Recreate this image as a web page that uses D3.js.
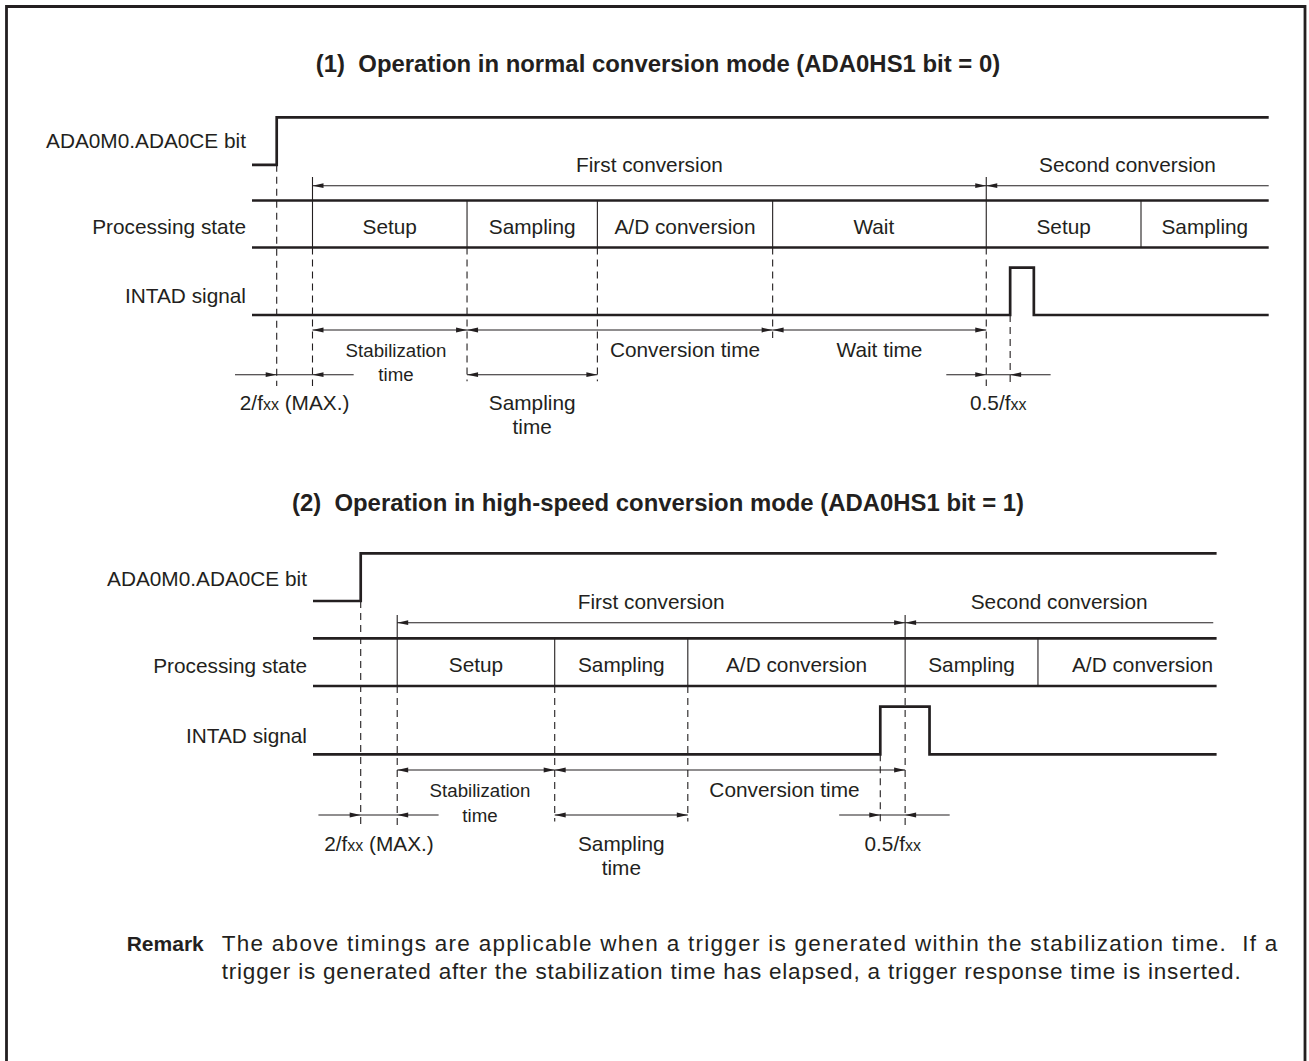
<!DOCTYPE html>
<html><head><meta charset="utf-8">
<script src="https://cdn.jsdelivr.net/npm/d3@7"></script>
<style>
html,body{margin:0;padding:0;background:#fff;}
svg{display:block;}
text{font-family:"Liberation Sans",Arial,Helvetica,sans-serif;fill:#231f20;white-space:pre;}
</style></head><body><div id="chart"></div>
<script>
// ================= DATA =================
const titles = [
  "(1)  Operation in normal conversion mode (ADA0HS1 bit = 0)",
  "(2)  Operation in high-speed conversion mode (ADA0HS1 bit = 1)"
];
const signalLabels = ["ADA0M0.ADA0CE bit", "Processing state", "INTAD signal"];
const remarkHead = "Remark";
const remarkLines = [
  "The above timings are applicable when a trigger is generated within the stabilization time.  If a",
  "trigger is generated after the stabilization time has elapsed, a trigger response time is inserted."
];

// Times are in diagram units: 0 = left end of the traces, 1000 = right end.
// ---- Panel 1: normal conversion mode ----
const normalCeRise = 24.3;
const normalStateBounds = [59.5, 211.5, 339.7, 512.1, 722.2, 874.4, 1000];
const normalStateLabels = ["Setup", "Sampling", "A/D conversion", "Wait", "Setup", "Sampling"];
const normalStateLabelAt = [135.5, 275.6, 425.9, 611.6, 798.3, 937.2];
const normalIntadPulse = [745.7, 769.0];
const normalConvLabels = ["First conversion", "Second conversion"];
const normalConvBounds = [59.5, 722.2, 1000];
const normalSpanLabels = [["Stabilization", "time"], ["Conversion time"], ["Wait time"], ["Sampling", "time"]];
const normalSpanFrom = [59.5, 211.5, 512.1, 211.5];
const normalSpanTo = [211.5, 512.1, 722.2, 339.7];
const normalSpanRow = [0, 0, 0, 1];
const normalSpanLabelAt = [141.6, 425.9, 617.2, 275.6];
const normalClockLabels = [["2/f", "xx", " (MAX.)"], ["0.5/f", "xx", ""]];
const normalClockFrom = [24.3, 722.2];
const normalClockTo = [59.5, 745.7];
const normalClockLineFrom = [-16.7, 682.9];
const normalClockLineTo = [100.0, 785.5];

// ---- Panel 2: high-speed conversion mode ----
const fastCeRise = 52.8;
const fastStateBounds = [93.2, 267.5, 414.8, 655.3, 802.3, 1000];
const fastStateLabels = ["Setup", "Sampling", "A/D conversion", "Sampling", "A/D conversion"];
const fastStateLabelAt = [180.4, 341.2, 535.1, 728.8, 918.0];
const fastIntadPulse = [627.8, 682.3];
const fastConvLabels = ["First conversion", "Second conversion"];
const fastConvBounds = [93.2, 655.3, 996.3];
const fastSpanLabels = [["Stabilization", "time"], ["Conversion time"], ["Sampling", "time"]];
const fastSpanFrom = [93.2, 267.5, 267.5];
const fastSpanTo = [267.5, 655.3, 414.8];
const fastSpanRow = [0, 0, 1];
const fastSpanLabelAt = [184.8, 521.8, 341.2];
const fastClockLabels = [["2/f", "xx", " (MAX.)"], ["0.5/f", "xx", ""]];
const fastClockFrom = [52.8, 627.8];
const fastClockTo = [93.2, 655.3];
const fastClockLineFrom = [6.0, 582.3];
const fastClockLineTo = [139.0, 704.6];

// ================= LAYOUT / STYLE =================
const W = 1309, H = 1061;
const ink = "#231f20";
const FS = 20.8, FS_SMALL = 18.7, FS_SUB = 16, FS_TITLE = 23.9;
const thick = 2.7, thin = 1.1;
const layouts = [
  {x0: 252, x1: 1268.7, titleY: 72, ceHigh: 117.3, ceLow: 164.8, ceText: 148.3,
   convText: 172, convArrow: 185.7, tickTop: 177, boxTop: 200.5, boxBot: 247.5, stateText: 233.8,
   intadBase: 315, intadTop: 267.7, intadText: 303.3, rows: [330, 374.7],
   rowText: [[357.3, 381], [410.3, 434.3]], longBot: 386},
  {x0: 313, x1: 1216.6, titleY: 510.7, ceHigh: 553.3, ceLow: 601, ceText: 586,
   convText: 608.5, convArrow: 622.7, tickTop: 615, boxTop: 638.3, boxBot: 686, stateText: 672.7,
   intadBase: 754.3, intadTop: 706.7, intadText: 742.7, rows: [770, 815],
   rowText: [[797.3, 821.7], [851, 875]], longBot: 826}
];
const rowExt = [8, 6.5];
const spanFont = {"Stabilization": FS_SMALL};

const panels = [
  {title: titles[0], ceRise: normalCeRise, stateBounds: normalStateBounds, stateLabels: normalStateLabels,
   stateLabelAt: normalStateLabelAt, pulse: normalIntadPulse, convLabels: normalConvLabels, convBounds: normalConvBounds,
   spanLabels: normalSpanLabels, spanFrom: normalSpanFrom, spanTo: normalSpanTo, spanRow: normalSpanRow,
   spanLabelAt: normalSpanLabelAt, clockLabels: normalClockLabels, clockFrom: normalClockFrom, clockTo: normalClockTo,
   clockLineFrom: normalClockLineFrom, clockLineTo: normalClockLineTo},
  {title: titles[1], ceRise: fastCeRise, stateBounds: fastStateBounds, stateLabels: fastStateLabels,
   stateLabelAt: fastStateLabelAt, pulse: fastIntadPulse, convLabels: fastConvLabels, convBounds: fastConvBounds,
   spanLabels: fastSpanLabels, spanFrom: fastSpanFrom, spanTo: fastSpanTo, spanRow: fastSpanRow,
   spanLabelAt: fastSpanLabelAt, clockLabels: fastClockLabels, clockFrom: fastClockFrom, clockTo: fastClockTo,
   clockLineFrom: fastClockLineFrom, clockLineTo: fastClockLineTo}
];

// ================= DRAW =================
const svg = d3.select("#chart").append("svg").attr("width", W).attr("height", H);

// frame (open at the bottom)
svg.append("path")
  .attr("d", d3.line()([[6.5, H + 2], [6.5, 6.5], [1305, 6.5], [1305, H + 2]]))
  .attr("fill", "none").attr("stroke", ink).attr("stroke-width", 2.8);

function head(g, tipX, y, dir) {
  const len = 11, hw = 2.4;
  g.append("path")
    .attr("d", d3.line()([[tipX, y], [tipX - dir * len, y - hw], [tipX - dir * len, y + hw]]) + "Z")
    .attr("fill", ink).attr("stroke", "none");
}
function hline(g, xa, xb, y, w, col) {
  g.append("line").attr("x1", xa).attr("x2", xb).attr("y1", y).attr("y2", y)
    .attr("stroke", col || ink).attr("stroke-width", w);
}
function vline(g, x, ya, yb, w, dashed) {
  const l = g.append("line").attr("x1", x).attr("x2", x).attr("y1", ya).attr("y2", yb)
    .attr("stroke", ink).attr("stroke-width", w);
  if (dashed) l.attr("stroke-dasharray", "7,5");
  return l;
}
function label(g, x, y, txt, anchor, size, weight) {
  return g.append("text").attr("x", x).attr("y", y).attr("text-anchor", anchor || "middle")
    .attr("font-size", size || FS).attr("font-weight", weight || "normal").text(txt);
}

panels.forEach((d, pi) => {
  const L = layouts[pi];
  const x = d3.scaleLinear().domain([0, 1000]).range([L.x0, L.x1]);
  const g = svg.append("g");
  const trace = d3.line().x(p => x(p[0])).y(p => p[1]).curve(d3.curveLinear);

  // title
  label(g, 658, L.titleY, d.title, "middle", FS_TITLE, "bold");

  // signal names
  const lx = L.x0 - 6;
  label(g, lx, L.ceText, signalLabels[0], "end");
  label(g, lx, L.stateText, signalLabels[1], "end");
  label(g, lx, L.intadText, signalLabels[2], "end");

  // dashed guide lines (drawn first so solid marks sit on top)
  const dg = g.append("g");
  vline(dg, x(d.ceRise), L.ceLow, L.longBot, thin, true);
  d.convBounds.slice(0, -1).forEach(t => vline(dg, x(t), L.boxBot, L.longBot, thin, true));
  vline(dg, x(d.pulse[0]), L.intadBase, L.longBot, thin, true);
  d.stateBounds.slice(0, -1).forEach(t => {
    if (d.convBounds.includes(t)) return;
    let maxRow = -1;
    d.spanFrom.forEach((f, i) => {
      if (Math.abs(f - t) < 0.01 || Math.abs(d.spanTo[i] - t) < 0.01) maxRow = Math.max(maxRow, d.spanRow[i]);
    });
    if (maxRow >= 0) vline(dg, x(t), L.boxBot, L.rows[maxRow] + rowExt[maxRow], thin, true);
  });

  // ADA0CE bit waveform
  g.append("path")
    .attr("d", trace([[0, L.ceLow], [d.ceRise, L.ceLow], [d.ceRise, L.ceHigh], [1000, L.ceHigh]]))
    .attr("fill", "none").attr("stroke", ink).attr("stroke-width", thick).attr("stroke-linejoin", "miter");

  // processing state band
  hline(g, x(0), x(1000), L.boxTop, thick);
  hline(g, x(0), x(1000), L.boxBot, thick);
  d.stateBounds.slice(0, -1).forEach(t => {
    const top = d.convBounds.includes(t) ? L.tickTop : L.boxTop;
    vline(g, x(t), top, L.boxBot, thin, false);
  });
  d.stateLabels.forEach((s, i) => label(g, x(d.stateLabelAt[i]), L.stateText - 0.3, s));

  // INTAD waveform
  g.append("path")
    .attr("d", trace([[0, L.intadBase], [d.pulse[0], L.intadBase], [d.pulse[0], L.intadTop],
                      [d.pulse[1], L.intadTop], [d.pulse[1], L.intadBase], [1000, L.intadBase]]))
    .attr("fill", "none").attr("stroke", ink).attr("stroke-width", thick).attr("stroke-linejoin", "miter");

  // conversion arrows
  const cb = d.convBounds;
  hline(g, x(cb[0]), x(cb[1]), L.convArrow, thin);
  head(g, x(cb[0]), L.convArrow, -1);
  head(g, x(cb[1]), L.convArrow, 1);
  hline(g, x(cb[1]), x(cb[2]), L.convArrow, thin);
  head(g, x(cb[1]), L.convArrow, -1);
  label(g, x((cb[0] + cb[1]) / 2), L.convText, d.convLabels[0]);
  label(g, x((cb[1] + cb[2]) / 2), L.convText, d.convLabels[1]);

  // duration spans
  d.spanLabels.forEach((lines, i) => {
    const y = L.rows[d.spanRow[i]];
    const a = x(d.spanFrom[i]), b = x(d.spanTo[i]);
    hline(g, a, b, y, thin);
    head(g, a, y, -1);
    head(g, b, y, 1);
    const fs = spanFont[lines[0]] || FS;
    lines.forEach((ln, k) => label(g, x(d.spanLabelAt[i]), L.rowText[d.spanRow[i]][k], ln, "middle", fs));
  });

  // clock-count marks (arrows pointing inward)
  d.clockLabels.forEach((parts, i) => {
    const y = L.rows[1];
    hline(g, x(d.clockLineFrom[i]), x(d.clockLineTo[i]), y, thin);
    head(g, x(d.clockFrom[i]), y, 1);
    head(g, x(d.clockTo[i]), y, -1);
    const t = g.append("text").attr("x", x((d.clockFrom[i] + d.clockTo[i]) / 2))
      .attr("y", L.rowText[1][0]).attr("text-anchor", "middle").attr("font-size", FS);
    t.append("tspan").text(parts[0]);
    t.append("tspan").attr("font-size", FS_SUB).text(parts[1]);
    if (parts[2]) t.append("tspan").text(parts[2]);
  });
});

// remark
const rg = svg.append("g");
label(rg, 126.7, 951, remarkHead, "start", 21, "bold");
const remarkY = [951, 979.3];
const remarkLen = [1055.6, 1019];
remarkLines.forEach((s, i) => {
  rg.append("text").attr("x", 221.7).attr("y", remarkY[i]).attr("font-size", 22.5)
    .attr("textLength", remarkLen[i]).attr("lengthAdjust", "spacing")
    .text(s);
});
</script>
</body></html>
